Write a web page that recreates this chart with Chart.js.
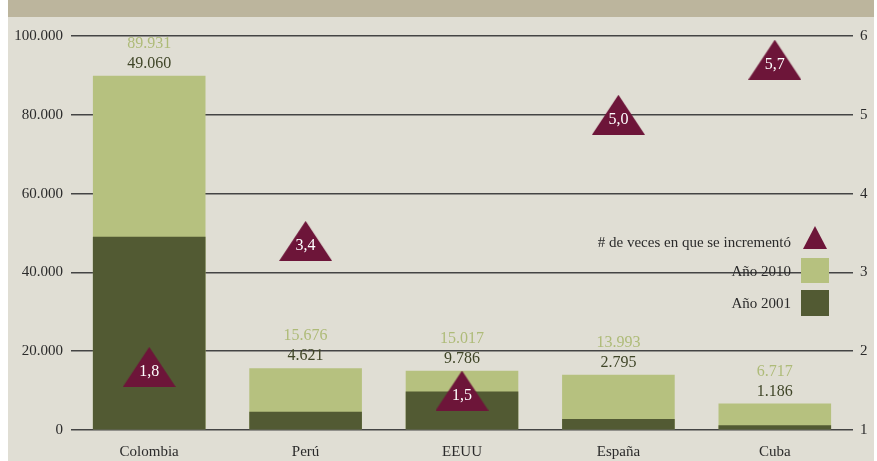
<!DOCTYPE html>
<html>
<head>
<meta charset="utf-8">
<script src="https://cdn.jsdelivr.net/npm/chart.js@4/dist/chart.umd.min.js"></script>
<style>
  body { margin: 0; background: #fff; }
  canvas { display: block; }
</style>
</head>
<body>
<canvas id="chart" width="877" height="461"></canvas>
<script>
const categories = ['Colombia', 'Perú', 'EEUU', 'España', 'Cuba'];
const anio2001 = [49060, 4621, 9786, 2795, 1186];
const anio2010 = [89931, 15676, 15017, 13993, 6717];
const veces = [1.8, 3.4, 1.5, 5.0, 5.7];

const FONT = '"Liberation Serif", "Times New Roman", serif';
const LIGHT = '#b6c17f';
const DARK = '#525a33';
const MAROON = '#6d1539';

function miles(v) {
  return String(v).replace(/\B(?=(\d{3})+(?!\d))/g, '.');
}

// triangle image used as point style (wider than the built-in one)
function makeTri(w, h) {
  const c = document.createElement('canvas');
  c.width = w;
  c.height = h;
  const g = c.getContext('2d');
  g.fillStyle = MAROON;
  g.beginPath();
  g.moveTo(w / 2, 0);
  g.lineTo(w, h);
  g.lineTo(0, h);
  g.closePath();
  g.fill();
  return c;
}

const bigTri = makeTri(53, 40);
const smallTri = makeTri(24, 23);

const backdrop = {
  id: 'backdrop',
  beforeDraw(chart) {
    const ctx = chart.ctx;
    ctx.save();
    ctx.fillStyle = '#e0ded4';
    ctx.fillRect(8, 17, 866, 444);
    ctx.fillStyle = '#bcb59d';
    ctx.fillRect(8, 0, 866, 17);
    ctx.restore();
  }
};

const labels = {
  id: 'labels',
  afterDatasetsDraw(chart) {
    const ctx = chart.ctx;
    ctx.save();
    ctx.textAlign = 'center';
    ctx.textBaseline = 'middle';
    ctx.font = '16px ' + FONT;
    const tall = chart.getDatasetMeta(2).data;
    tall.forEach((bar, i) => {
      ctx.fillStyle = '#aebb78';
      ctx.fillText(miles(anio2010[i]), bar.x, bar.y - 32);
      ctx.fillStyle = '#3f4527';
      ctx.fillText(miles(anio2001[i]), bar.x, bar.y - 12);
    });
    ctx.fillStyle = '#fff';
    chart.getDatasetMeta(0).data.forEach((pt, i) => {
      ctx.fillText(veces[i].toFixed(1).replace('.', ','), pt.x, pt.y + 5);
    });

    // legend
    ctx.font = '15px ' + FONT;
    ctx.textAlign = 'right';
    ctx.fillStyle = '#2b2b2b';
    ctx.fillText('# de veces en que se incrementó', 791, 243);
    ctx.fillText('Año 2010', 791, 272);
    ctx.fillText('Año 2001', 791, 304);
    ctx.drawImage(smallTri, 803, 226);
    ctx.fillStyle = LIGHT;
    ctx.fillRect(801, 258, 28, 25);
    ctx.fillStyle = DARK;
    ctx.fillRect(801, 290, 28, 26);
    ctx.restore();
  }
};

new Chart(document.getElementById('chart'), {
  type: 'bar',
  data: {
    labels: categories,
    datasets: [
      {
        type: 'line',
        label: '# de veces en que se incrementó',
        data: veces,
        yAxisID: 'y1',
        showLine: false,
        pointStyle: bigTri,
        pointRadius: 20
      },
      {
        label: 'Año 2001',
        data: anio2001,
        backgroundColor: DARK,
        yAxisID: 'y'
      },
      {
        label: 'Año 2010',
        data: anio2010,
        backgroundColor: LIGHT,
        yAxisID: 'y'
      }
    ]
  },
  options: {
    responsive: false,
    animation: false,
    layout: { padding: { top: 36, right: 0, left: 0, bottom: 0 } },
    datasets: {
      bar: { categoryPercentage: 1, barPercentage: 0.72 }
    },
    plugins: {
      legend: { display: false },
      tooltip: { enabled: false }
    },
    scales: {
      x: {
        stacked: true,
        grid: { display: false, drawTicks: false },
        border: { display: false },
        ticks: { color: '#2b2b2b', font: { family: FONT, size: 15 }, padding: 13 },
        afterFit: s => { s.height = 31; }
      },
      y: {
        position: 'left',
        min: 0,
        max: 100000,
        ticks: {
          stepSize: 20000,
          color: '#2b2b2b',
          font: { family: FONT, size: 15 },
          padding: 8,
          callback: v => miles(v)
        },
        grid: { color: '#444', lineWidth: 1.5, drawTicks: false },
        border: { display: false },
        afterFit: s => { s.width = 71; }
      },
      y1: {
        position: 'right',
        min: 1,
        max: 6,
        ticks: {
          stepSize: 1,
          color: '#2b2b2b',
          font: { family: FONT, size: 15 },
          padding: 7
        },
        grid: { display: false, drawTicks: false },
        border: { display: false },
        afterFit: s => { s.width = 24; }
      }
    }
  },
  plugins: [backdrop, labels]
});
</script>
</body>
</html>
